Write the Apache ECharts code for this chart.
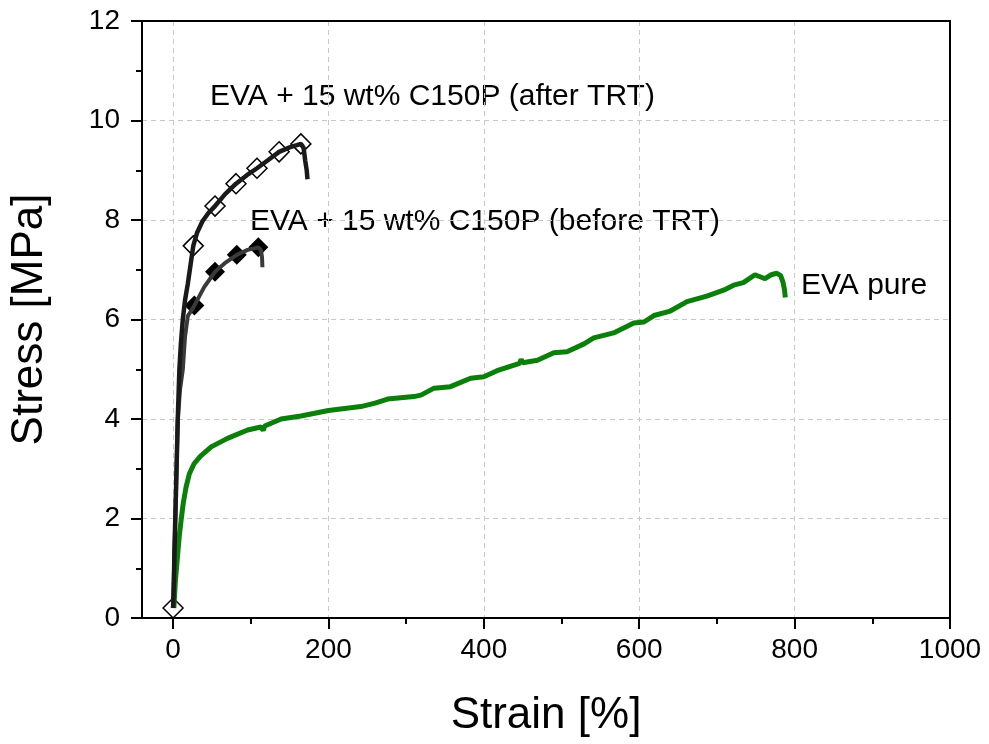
<!DOCTYPE html>
<html>
<head>
<meta charset="utf-8">
<script src="https://cdn.jsdelivr.net/npm/echarts@6/dist/echarts.min.js"></script>
<style>
  html, body { margin: 0; padding: 0; background: #fff; }
  #chart { width: 989px; height: 744px; }
</style>
</head>
<body>
<div id="chart"></div>
<script>
// strain [%] / stress [MPa] pairs
const evaPure = [
  [1, 0.2], [3, 0.75], [6, 1.29], [8, 1.65], [10.3, 1.96], [13, 2.3], [16.7, 2.63],
  [21, 2.9], [27, 3.1], [35, 3.25], [49, 3.44], [70, 3.61], [96, 3.78], [113, 3.84],
  [116, 3.77], [118, 3.86], [139, 4.0], [164.5, 4.06], [200, 4.17], [241.6, 4.25],
  [260, 4.32], [276, 4.4], [310, 4.45], [319, 4.48], [336, 4.62], [357, 4.65],
  [383, 4.82], [400, 4.85], [417, 4.97], [446, 5.12], [448, 5.2], [450, 5.13],
  [469, 5.18], [490, 5.33], [507, 5.35], [529, 5.51], [541.5, 5.63], [567, 5.73],
  [593, 5.93], [606, 5.95], [619, 6.08], [640, 6.17], [661.5, 6.36], [687, 6.47],
  [708.6, 6.59], [721.5, 6.69], [734, 6.74], [749, 6.9], [762, 6.82], [770, 6.9],
  [777, 6.93], [782, 6.88], [785, 6.75], [787, 6.6], [788, 6.44]
]
const beforeTrt = [
  [0, 0.2], [1.7, 1.29], [3.9, 2.63], [6, 3.98], [9, 4.6], [12.5, 4.99], [15.4, 5.66],
  [19, 6.07], [27.4, 6.28], [40, 6.65], [54, 6.96], [68, 7.15], [82, 7.3], [96, 7.4],
  [109.7, 7.45], [113, 7.4], [114.5, 7.25], [115, 7.05]
]
const afterTrt = [
  [0, 0.2], [1, 0.7], [1.7, 1.29], [3, 2.1], [3.9, 2.63], [6, 3.98], [8.1, 4.99],
  [10, 5.5], [12.5, 6.0], [15.5, 6.4], [19, 6.72], [26, 7.48], [31, 7.75], [38, 7.98],
  [46, 8.15], [54, 8.28], [67, 8.52], [81, 8.73], [95, 8.9], [108, 9.04], [122, 9.2],
  [136.5, 9.37], [150, 9.46], [164.5, 9.53], [168, 9.45], [170, 9.2], [172, 9.0], [173, 8.82]
]
// diamond markers
const beforeMarks = [[27.4, 6.28], [54, 6.96], [82, 7.3], [109.7, 7.45]]
const afterMarks = [[0, 0.2], [26, 7.48], [54, 8.28], [81, 8.73], [108, 9.04], [136.5, 9.37], [164.5, 9.53]]
// ticks
const xMajor = [0, 200, 400, 600, 800, 1000]
const xMinor = [100, 300, 500, 700, 900]
const labelTexts = ['EVA + 15 wt% C150P (after TRT)', 'EVA + 15 wt% C150P (before TRT)', 'EVA pure']

const font = 'Liberation Sans, Arial, sans-serif'
const chart = echarts.init(document.getElementById('chart'))

const dashed = {
  show: true,
  lineStyle: { color: '#c8c8c8', width: 1, type: [5, 4] }
}
const frameLine = { show: true, onZero: false, lineStyle: { color: '#000', width: 2 } }

chart.setOption({
  animation: false,
  backgroundColor: '#fff',
  grid: { left: 140, right: 39, top: 21, bottom: 126 },
  xAxis: [
    {
      type: 'value',
      position: 'bottom',
      min: -40,
      max: 1000,
      name: 'Strain [%]',
      nameLocation: 'middle',
      nameGap: 76,
      nameTextStyle: { fontSize: 44, fontFamily: font, color: '#000' },
      axisLine: frameLine,
      axisTick: { length: 11, customValues: xMajor, lineStyle: { color: '#000', width: 2 } },
      axisLabel: {
        customValues: xMajor,
        margin: 18,
        fontSize: 28,
        fontFamily: font,
        color: '#000',
        formatter: v => String(v)
      },
      splitLine: dashed
    },
    {
      // minor ticks only
      type: 'value',
      position: 'bottom',
      min: -40,
      max: 1000,
      axisLine: { show: false, onZero: false },
      axisTick: { length: 6, customValues: xMinor, lineStyle: { color: '#000', width: 2 } },
      axisLabel: { show: false },
      splitLine: { show: false }
    },
    {
      type: 'value',
      position: 'top',
      min: -40,
      max: 1000,
      axisLine: frameLine,
      axisTick: { show: false },
      axisLabel: { show: false },
      splitLine: { show: false }
    }
  ],
  yAxis: [
    {
      type: 'value',
      position: 'left',
      min: 0,
      max: 12,
      interval: 2,
      name: 'Stress [MPa]',
      nameLocation: 'middle',
      nameGap: 90,
      nameTextStyle: { fontSize: 44, fontFamily: font, color: '#000' },
      axisLine: frameLine,
      axisTick: { length: 11, lineStyle: { color: '#000', width: 2 } },
      minorTick: { show: true, splitNumber: 2, length: 6, lineStyle: { color: '#000', width: 2 } },
      axisLabel: { margin: 22, fontSize: 28, fontFamily: font, color: '#000' },
      splitLine: dashed
    },
    {
      type: 'value',
      position: 'right',
      min: 0,
      max: 12,
      interval: 2,
      axisLine: frameLine,
      axisTick: { show: false },
      axisLabel: { show: false },
      splitLine: { show: false }
    }
  ],
  series: [
    {
      name: 'EVA pure',
      type: 'line',
      data: evaPure,
      showSymbol: false,
      lineStyle: { color: '#0a7f0a', width: 5 }
    },
    {
      name: 'before TRT',
      type: 'line',
      data: beforeTrt,
      showSymbol: false,
      lineStyle: { color: '#3a3a3a', width: 4 }
    },
    {
      name: 'after TRT',
      type: 'line',
      data: afterTrt,
      showSymbol: false,
      lineStyle: { color: '#1a1a1a', width: 4.5 }
    },
    {
      type: 'scatter',
      data: beforeMarks,
      symbol: 'diamond',
      symbolSize: 20,
      itemStyle: { color: '#000', opacity: 1 }
    },
    {
      type: 'scatter',
      data: afterMarks,
      symbol: 'diamond',
      symbolSize: 20,
      itemStyle: { color: '#fff', borderColor: '#000', borderWidth: 1.5, opacity: 1 }
    }
  ],
  graphic: [
    { type: 'text', x: 210, y: 97, style: { text: labelTexts[0], fontSize: 30, fontFamily: font, fill: '#000', verticalAlign: 'middle' } },
    { type: 'text', x: 250, y: 222, style: { text: labelTexts[1], fontSize: 30, fontFamily: font, fill: '#000', verticalAlign: 'middle' } },
    { type: 'text', x: 801, y: 286, style: { text: labelTexts[2], fontSize: 30, fontFamily: font, fill: '#000', verticalAlign: 'middle' } }
  ]
})
</script>
</body>
</html>
